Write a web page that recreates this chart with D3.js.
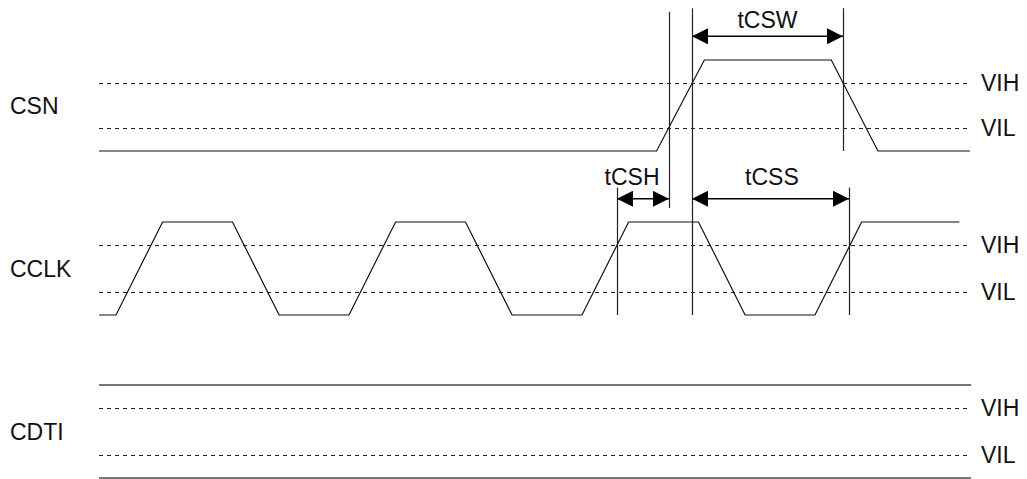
<!DOCTYPE html>
<html>
<head>
<meta charset="utf-8">
<script src="https://cdnjs.cloudflare.com/ajax/libs/d3/7.8.5/d3.min.js"></script>
<style>
  body { margin: 0; background: #fff; }
  svg { display: block; }
  text { font-family: "Liberation Sans", Arial, sans-serif; font-size: 23px; fill: #111; }
</style>
</head>
<body>
<svg id="svg1" width="1027" height="479"></svg>
<script>
// signal names and threshold labels
var lanes = ['CSN', 'CCLK', 'CDTI'];
var thresholdNames = ['VIH', 'VIL'];
var thresholdLevels = [0.75, 0.25];

// waveforms: time (clock period = 10 units) and logic level
var csnTimes = [-0.73, 23.2, 25.25, 30.7, 32.7, 36.65];
var csnLevels = [0, 0, 1, 1, 0, 0];
var cclkTimes = [-0.73, 0, 2, 5, 7, 10, 12, 15, 17, 20, 22, 25, 27, 30, 32, 36.2];
var cclkLevels = [0, 0, 1, 1, 0, 0, 1, 1, 0, 0, 1, 1, 0, 0, 1, 1];
var cdtiTimes = [-0.73, 36.7];
var cdtiLevels = [1, 0];   // drawn as two flat bus lines
var dashEnd = 36.55;

// timing reference lines: time, [lane, level] top, [lane, level] bottom
var markerTimes = [23.73, 24.72, 31.2, 21.5, 31.46];
var markerTops = [['CSN', 1.53], ['CSN', 1.57], ['CSN', 1.57], ['CCLK', 1.37], ['CCLK', 1.37]];
var markerBottoms = [['CCLK', 1.15], ['CCLK', 0], ['CSN', 0], ['CCLK', 0], ['CCLK', 0]];

// timing parameters: name, from, to, lane, arrow level, label position
var paramNames = ['tCSW', 'tCSH', 'tCSS'];
var paramFrom = [24.72, 21.5, 24.72];
var paramTo = [31.2, 23.73, 31.46];
var paramLane = ['CSN', 'CCLK', 'CCLK'];
var paramLevel = [1.26, 1.25, 1.25];
var paramLabelAt = [27.96, 22.15, 28.15];
var paramLabelLevel = [1.35, 1.40, 1.40];

var svg = d3.select('#svg1');

var scaleX = d3.scaleLinear().domain([0, 10]).range([116, 349]);

// each lane gets its own level scale (0 = low, 1 = high)
var laneScale = {
    CSN: d3.scaleLinear().domain([0, 1]).range([151, 60]),
    CCLK: d3.scaleLinear().domain([0, 1]).range([315, 222]),
    CDTI: d3.scaleLinear().domain([0, 1]).range([478, 385])
};

svg.append('defs').append('marker')
    .attr('id', 'arrow')
    .attr('markerUnits', 'userSpaceOnUse')
    .attr('markerWidth', 17)
    .attr('markerHeight', 16)
    .attr('refX', 16)
    .attr('refY', 8)
    .attr('orient', 'auto-start-reverse')
    .append('path')
    .attr('d', 'M0,0 L16,8 L0,16 Z')
    .attr('fill', '#000');

// threshold dashed lines + labels
lanes.forEach(function(lane) {
    var y = laneScale[lane];
    thresholdLevels.forEach(function(lv, i) {
        svg.append('line')
            .attr('x1', scaleX(cdtiTimes[0]))
            .attr('x2', scaleX(dashEnd))
            .attr('y1', Math.round(y(lv)) + 0.5)
            .attr('y2', Math.round(y(lv)) + 0.5)
            .attr('stroke', '#222')
            .attr('stroke-width', 1)
            .attr('stroke-dasharray', '4,4');
        svg.append('text')
            .attr('x', 981)
            .attr('y', y(lv) + 8)
            .text(thresholdNames[i]);
    });
    svg.append('text')
        .attr('x', 10)
        .attr('y', y(0.5) + 8)
        .text(lane);
});

var line = d3.line();

function wave(lane, times, levels) {
    var y = laneScale[lane];
    svg.append('path')
        .attr('d', line(times.map(function(t, i) { return [scaleX(t), y(levels[i])]; })))
        .attr('fill', 'none')
        .attr('stroke', '#111')
        .attr('stroke-width', 1.2);
}
wave('CSN', csnTimes, csnLevels);
wave('CCLK', cclkTimes, cclkLevels);

// CDTI bus lines
cdtiLevels.forEach(function(lv) {
    svg.append('line')
        .attr('x1', scaleX(cdtiTimes[0]))
        .attr('x2', scaleX(cdtiTimes[1]))
        .attr('y1', laneScale.CDTI(lv))
        .attr('y2', laneScale.CDTI(lv))
        .attr('stroke', '#777')
        .attr('stroke-width', 2);
});

// vertical reference lines
markerTimes.forEach(function(t, i) {
    var x = Math.round(scaleX(t)) + 0.5;
    svg.append('line')
        .attr('x1', x).attr('x2', x)
        .attr('y1', laneScale[markerTops[i][0]](markerTops[i][1]))
        .attr('y2', laneScale[markerBottoms[i][0]](markerBottoms[i][1]))
        .attr('stroke', '#222')
        .attr('stroke-width', 1.2);
});

// dimension arrows
paramNames.forEach(function(name, i) {
    var y = laneScale[paramLane[i]];
    var x1 = scaleX(paramFrom[i]), x2 = scaleX(paramTo[i]);
    svg.append('line')
        .attr('x1', x1).attr('x2', x2)
        .attr('y1', y(paramLevel[i])).attr('y2', y(paramLevel[i]))
        .attr('stroke', '#000')
        .attr('stroke-width', 1.5)
        .attr('marker-start', 'url(#arrow)')
        .attr('marker-end', 'url(#arrow)');
    svg.append('text')
        .attr('x', scaleX(paramLabelAt[i]))
        .attr('y', y(paramLabelLevel[i]))
        .attr('text-anchor', 'middle')
        .text(name);
});
</script>
</body>
</html>
